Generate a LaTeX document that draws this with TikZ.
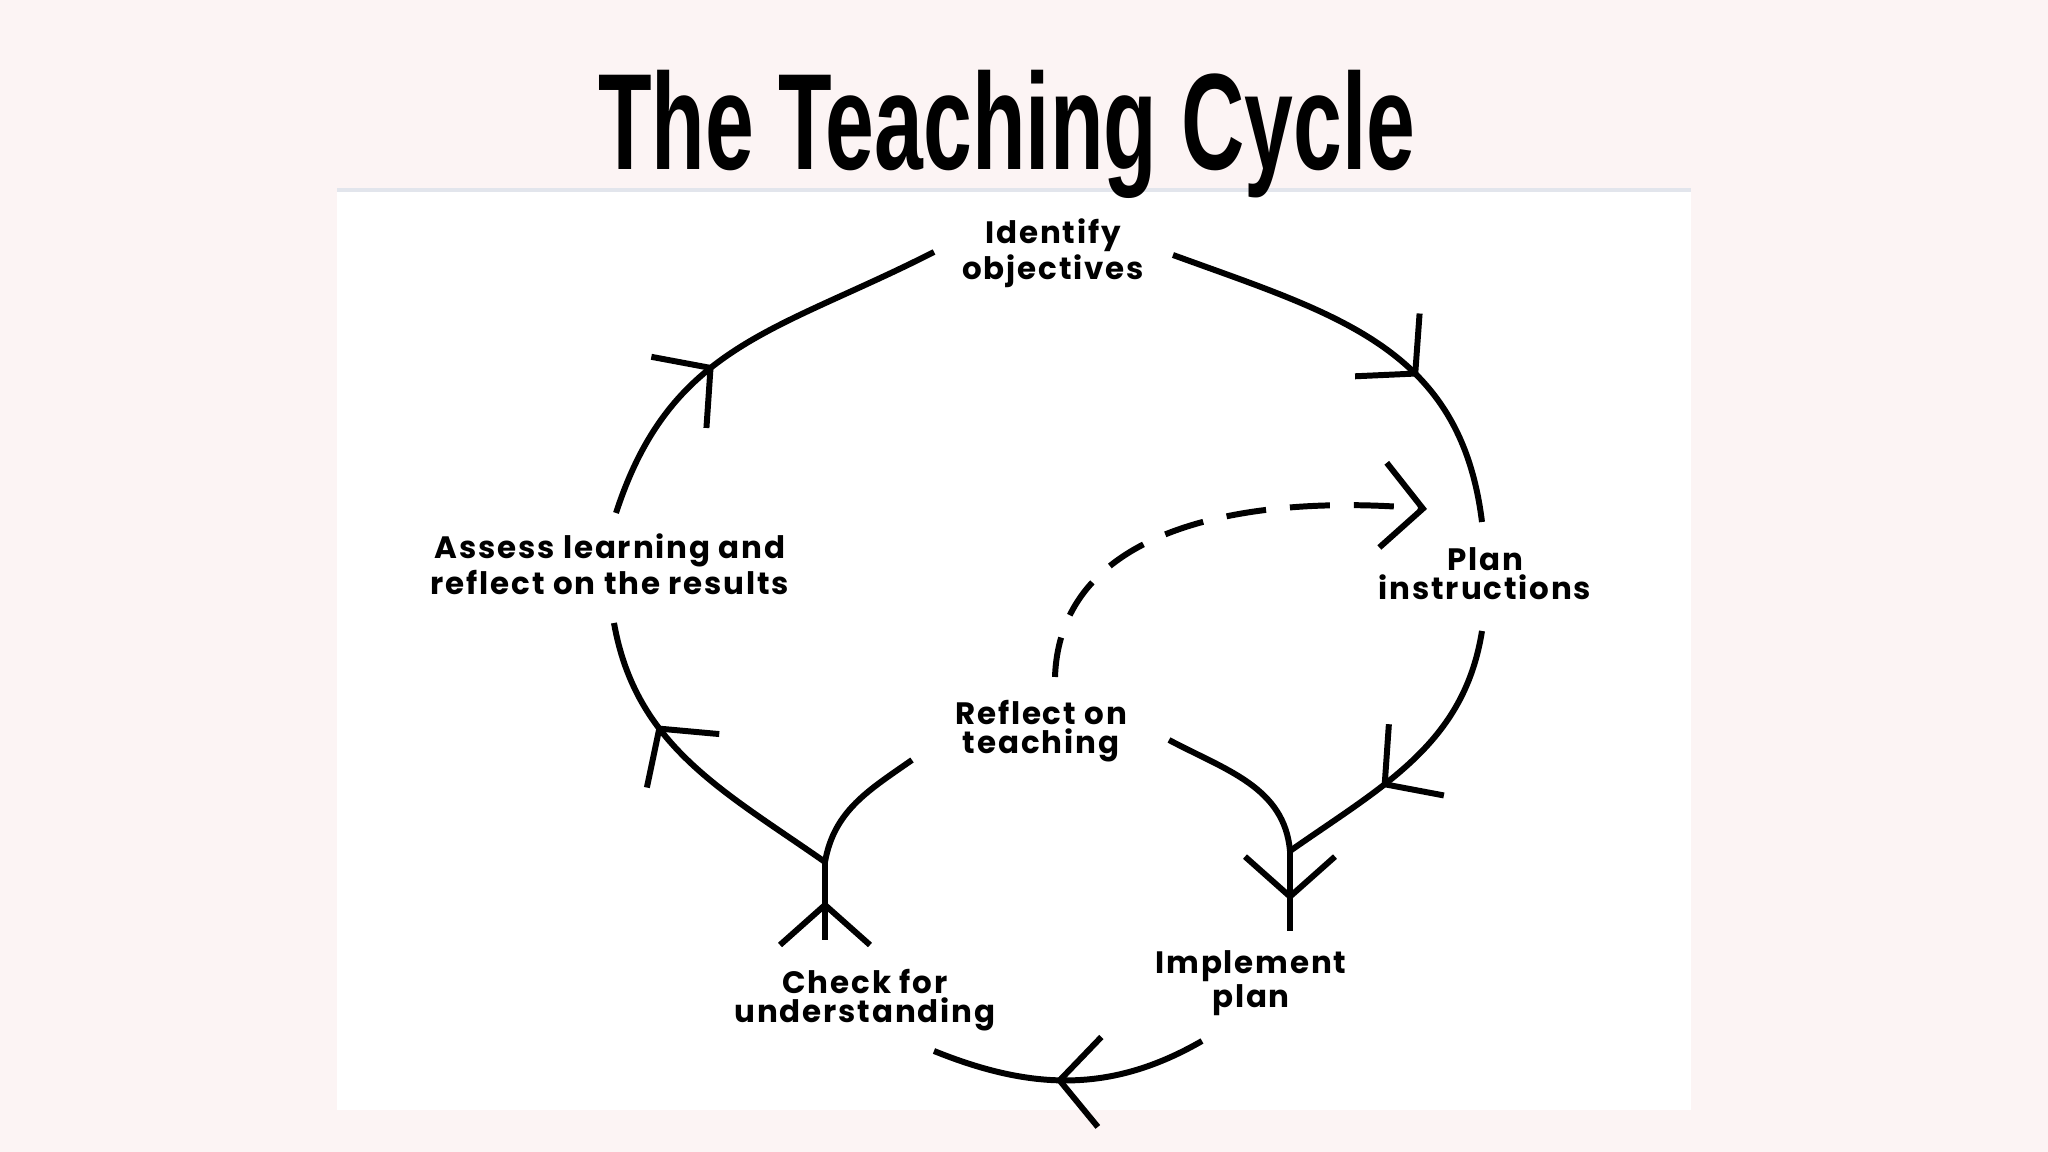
\documentclass[tikz,border=0pt]{standalone}
\usepackage{fontspec}
\usepackage{graphicx}
\usetikzlibrary{arrows.meta,decorations.markings}

\newfontfamily\titlefont{Liberation Sans}
\newfontfamily\stagefont[LetterSpace=6]{Poppins}

\definecolor{pagepink}{RGB}{252,244,244}
\definecolor{panelline}{RGB}{226,229,236}

\tikzset{
  cyc/.style={line width=1.7pt},
  midarrow/.style={postaction={decorate},
    decoration={markings,mark=at position #1 with {\arrow{Straight Barb[length=4mm,width=9mm]}}}},
  stage/.style={font=\stagefont\bfseries\fontsize{8.8}{8.3}\selectfont, align=center, inner sep=0pt}
}

\begin{document}
\begin{tikzpicture}
        % Background and panel
        \fill[pagepink] (0,0) rectangle (20.48,11.52);
        \fill[white] (3.37,0.42) rectangle (16.91,9.63);
        \draw[panelline, line width=1.2pt] (3.37,9.62) -- (16.91,9.62);
        \useasboundingbox (0,0) rectangle (20.48,11.52);

        % Title
        \node (title) [anchor=base, inner sep=0pt] at (10.07,9.82)
          {\titlefont\bfseries\fontsize{39}{40}\selectfont\scalebox{0.64}[1]{The Teaching Cycle}};

        % Stage labels
        \node[stage] (identify) at (10.53,8.99) {Identify\\objectives};
        \node[stage] (plan) at (14.85,5.78) {Plan\\instructions};
        \node[stage] (implement) at (12.51,1.69) {Implement\\plan};
        \node[stage] (check) at (8.65,1.52) {Check for\\understanding};
        \node[stage] (assess) at (6.10,5.88) {Assess learning and\\reflect on the results};
        \node[stage] (reflect) at (10.41,4.21) {Reflect on\\teaching};

        % Define coordinates
        \coordinate (idfL) at (9.34,9.00);
        \coordinate (idfR) at (11.73,8.97);
        \coordinate (planTop) at (14.82,6.30);
        \coordinate (planBot) at (14.82,5.21);
        \coordinate (jr) at (12.90,3.01);
        \coordinate (implTop) at (12.90,2.21);
        \coordinate (implBot) at (12.02,1.11);
        \coordinate (chkBot) at (9.34,1.01);
        \coordinate (chkTop) at (8.25,2.12);
        \coordinate (jl) at (8.25,2.90);
        \coordinate (assBot) at (6.14,5.29);
        \coordinate (assTop) at (6.16,6.39);
        \coordinate (refL) at (9.12,3.92);
        \coordinate (refR) at (11.69,4.12);
        \coordinate (refTop) at (10.55,4.75);
        \coordinate (dashTip) at (14.27,6.43);

        % Outer cycle
        \draw[cyc, midarrow=0.42] (assTop) to[out=72, in=207, looseness=1.1] (idfL);
        \draw[cyc, midarrow=0.63] (idfR) to[out=-20, in=97, looseness=1.1] (planTop);
        \draw[cyc, midarrow=0.63] (planBot) to[out=-99, in=35] (jr);
        \draw[cyc, midarrow=0.62] (jr) -- (implTop);
        \draw[cyc, midarrow=0.55] (implBot) to[out=-150, in=-22] (chkBot);
        \draw[cyc, midarrow=0.5] (chkTop) -- (jl);
        \draw[cyc, midarrow=0.66] (jl) to[out=145, in=-80] (assBot);

        % Inner branches through reflection
        \draw[cyc] (refR) to[out=-28, in=95] (jr);
        \draw[cyc] (jl) to[out=80, in=215] (refL);
        \draw[cyc, dash pattern=on 4mm off 2.4mm, -{Straight Barb[length=4mm,width=8.5mm]}]
          (refTop) to[out=88, in=175] (dashTip);
\end{tikzpicture}
\end{document}
